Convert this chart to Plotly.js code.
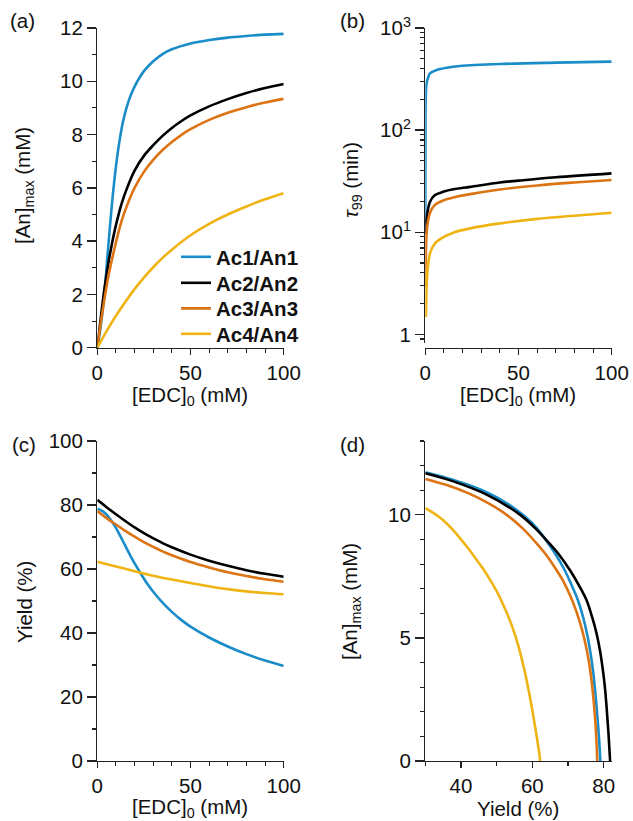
<!DOCTYPE html>
<html>
<head>
<meta charset="utf-8">
<script src="https://cdn.plot.ly/plotly-3.0.1.min.js"></script>
<style>html,body{margin:0;padding:0;background:#fff;}#chart{width:633px;height:821px;}</style>
</head>
<body>
<div id="chart"></div>
<script>
// ---- series names & colours ----
const seriesNames = ["Ac1/An1", "Ac2/An2", "Ac3/An3", "Ac4/An4"];
const seriesColors = ["#1a8cc8", "#000000", "#dc7414", "#efb414"];

// ---- panel (a): [An]max (mM) vs [EDC]0 (mM) ----
const aX1 = [0, 2, 4, 6, 8, 10, 12, 14, 17, 20, 25, 30, 35, 40, 50, 60, 70, 80, 90, 100];
const aY1 = [0, 0.9, 2.2, 3.9, 5.5, 6.8, 7.8, 8.55, 9.3, 9.8, 10.38, 10.75, 11.02, 11.2, 11.42, 11.55, 11.64, 11.7, 11.75, 11.78];
const aX2 = [0, 2, 4, 6, 8, 10, 13, 16, 20, 25, 30, 35, 40, 45, 50, 60, 70, 80, 90, 100];
const aY2 = [0, 1.2, 2.3, 3.2, 3.95, 4.6, 5.4, 6.0, 6.65, 7.2, 7.6, 7.95, 8.25, 8.5, 8.72, 9.06, 9.33, 9.56, 9.75, 9.9];
const aX3 = [0, 2, 4, 6, 8, 10, 13, 16, 20, 25, 30, 35, 40, 45, 50, 60, 70, 80, 90, 100];
const aY3 = [0, 1.0, 1.9, 2.7, 3.35, 3.95, 4.75, 5.35, 6.0, 6.6, 7.05, 7.42, 7.72, 7.98, 8.2, 8.55, 8.82, 9.03, 9.2, 9.34];
const aX4 = [0, 5, 10, 15, 20, 25, 30, 35, 40, 50, 60, 70, 80, 90, 100];
const aY4 = [0, 0.62, 1.2, 1.72, 2.2, 2.63, 3.02, 3.37, 3.68, 4.22, 4.65, 5.0, 5.3, 5.57, 5.8];

// ---- panel (b): tau99 (min) vs [EDC]0 (mM), log y ----
const bX1 = [0, 0.05, 0.1, 0.2, 0.7, 1.6, 2.5, 6, 11.5, 18.6, 40, 70, 100];
const bY1 = [12, 40, 100, 197, 287, 331, 360, 387, 408, 424, 444, 458, 468];
const bX2 = [0, 1, 2.5, 5, 10, 15, 24, 40, 50, 70, 100];
const bY2 = [9.7, 15, 19.8, 23, 25, 26.3, 27.8, 30.7, 32, 34.5, 37.7];
const bX3 = [0, 0.3, 1, 2.5, 5, 10, 15, 24, 40, 60, 80, 100];
const bY3 = [2.9, 6.2, 11.2, 15.4, 18.4, 20.6, 21.9, 23.6, 26.2, 28.7, 30.7, 32.5];
const bX4 = [0.35, 0.5, 0.7, 1.07, 2.5, 5, 10, 15, 24, 40, 60, 80, 100];
const bY4 = [1.48, 2.0, 2.9, 3.9, 6.2, 7.7, 9.0, 9.9, 10.9, 12.2, 13.5, 14.5, 15.5];
const bTickVals = [1, 10, 100, 1000];
const bTickText = ["1", "10<sup>1</sup>", "10<sup>2</sup>", "10<sup>3</sup>"];

// ---- panel (c): Yield (%) vs [EDC]0 (mM) ----
const cX1 = [0, 3, 6, 9, 12, 15, 18, 21, 24, 27, 30, 35, 40, 45, 50, 60, 70, 80, 90, 100];
const cY1 = [78.8, 78.0, 76.3, 73.8, 70.7, 67.3, 63.9, 60.8, 57.9, 55.2, 52.9, 49.5, 46.6, 44.1, 42.0, 38.6, 35.8, 33.4, 31.4, 29.7];
const cX2 = [0, 5, 10, 15, 20, 25, 30, 35, 40, 50, 60, 70, 80, 90, 100];
const cY2 = [81.6, 79.3, 77.1, 75.0, 73.0, 71.2, 69.6, 68.1, 66.8, 64.5, 62.6, 61.0, 59.6, 58.5, 57.6];
const cX3 = [0, 5, 10, 15, 20, 25, 30, 35, 40, 50, 60, 70, 80, 90, 100];
const cY3 = [78.1, 75.9, 73.9, 71.9, 70.1, 68.4, 66.9, 65.5, 64.3, 62.2, 60.5, 59.0, 57.8, 56.8, 56.0];
const cX4 = [0, 10, 20, 30, 40, 50, 60, 70, 80, 90, 100];
const cY4 = [62.3, 60.8, 59.3, 57.9, 56.7, 55.6, 54.6, 53.7, 53.0, 52.5, 52.1];

// ---- panel (d): [An]max (mM) vs Yield (%) ----
const dX1 = [30, 36, 42, 48, 53, 57.5, 61.2, 64, 66.5, 69, 71, 72.8, 74.3, 75.5, 76.4, 77.1, 77.7, 78.2, 78.7, 79.07];
const dY1 = [11.73, 11.5, 11.22, 10.86, 10.46, 9.98, 9.47, 8.93, 8.4, 7.77, 7.15, 6.52, 5.8, 5.05, 4.3, 3.55, 2.7, 1.85, 0.9, 0];
const dX2 = [30, 37.85, 47.2, 56.5, 60.5, 64, 67.5, 70.6, 73, 75.2, 76.8, 78, 79, 79.9, 80.4, 80.8, 81.3, 81.8];
const dY2 = [11.69, 11.36, 10.82, 10.01, 9.5, 8.96, 8.38, 7.74, 7.15, 6.53, 5.82, 5.18, 4.45, 3.55, 2.9, 2.2, 1.2, 0];
const dX3 = [30, 36, 42, 48, 53, 57.5, 61, 64, 66.5, 68.7, 70.6, 72.4, 73.9, 75.2, 76.1, 76.8, 77.3, 77.7, 78.0, 78.2];
const dY3 = [11.46, 11.21, 10.88, 10.45, 9.98, 9.42, 8.87, 8.35, 7.82, 7.3, 6.72, 6.05, 5.35, 4.55, 3.8, 3.0, 2.25, 1.5, 0.7, 0];
const dX4 = [30, 32, 34, 36, 38, 40, 42, 44, 46, 48, 50, 52, 54, 56, 58, 59, 60, 61, 62, 62.2];
const dY4 = [10.27, 10.1, 9.9, 9.65, 9.35, 9.0, 8.64, 8.25, 7.85, 7.4, 6.9, 6.3, 5.6, 4.72, 3.55, 2.84, 2.05, 1.2, 0.25, 0];

const panels = [
  {xs: [aX1, aX2, aX3, aX4], ys: [aY1, aY2, aY3, aY4], xa: "x", ya: "y"},
  {xs: [bX1, bX2, bX3, bX4], ys: [bY1, bY2, bY3, bY4], xa: "x2", ya: "y2"},
  {xs: [cX1, cX2, cX3, cX4], ys: [cY1, cY2, cY3, cY4], xa: "x3", ya: "y3"},
  {xs: [dX1, dX2, dX3, dX4], ys: [dY1, dY2, dY3, dY4], xa: "x4", ya: "y4"}
];

const legendIds = ["legend", "legend2", "legend3", "legend4"];
const traces = [];
panels.forEach((p, pi) => {
  for (let i = 0; i < 4; i++) {
    traces.push({
      x: p.xs[i], y: p.ys[i], xaxis: p.xa, yaxis: p.ya,
      type: "scatter", mode: "lines",
      line: {color: seriesColors[i], width: 2.6, shape: "spline", smoothing: 1},
      name: seriesNames[i],
      legend: legendIds[i],
      showlegend: pi === 0
    });
  }
});

const W = 633, H = 821;
const px = v => v / W;
const py = v => 1 - v / H;
const FONT = "Liberation Sans, Arial, Helvetica, sans-serif";
const FS = 20.5;
const axCol = "#222";

function axisBase(extra) {
  return Object.assign({
    showline: true, linecolor: axCol, linewidth: 1.3,
    ticks: "outside", ticklen: 9, tickwidth: 1.3, tickcolor: axCol,
    showgrid: false, zeroline: false, fixedrange: true,
    tickfont: {family: FONT, size: FS, color: "#111"}
  }, extra);
}
const minorLin = (d) => ({ticks: "outside", ticklen: 4, tickwidth: 1.1, tickcolor: axCol, dtick: d, showgrid: false});

// log minor ticks
const logMinor = [];
for (let e = -1; e < 3; e++) for (let m = 2; m <= 9; m++) logMinor.push(m * Math.pow(10, e));

const legendRowsY = [257, 283, 308.5, 334];
function legendBox(rowY) {
  return {
    x: px(176), y: py(rowY), xanchor: "left", yanchor: "middle",
    bgcolor: "rgba(0,0,0,0)", borderwidth: 0,
    font: {family: FONT, size: FS, color: "#111", weight: "bold"},
    itemwidth: 30
  };
}

const layout = {
  width: W, height: H,
  margin: {l: 0, r: 0, t: 0, b: 0},
  paper_bgcolor: "#fff", plot_bgcolor: "#fff",
  font: {family: FONT, size: FS, color: "#111"},
  showlegend: true,
  legend: legendBox(legendRowsY[0]),
  legend2: legendBox(legendRowsY[1]),
  legend3: legendBox(legendRowsY[2]),
  legend4: legendBox(legendRowsY[3]),
  xaxis: axisBase({domain: [px(97.3), px(283.7)], anchor: "y", range: [0, 100], tickvals: [0, 50, 100], ticklen: 6, minor: minorLin(10)}),
  yaxis: axisBase({domain: [py(347.7), py(28)], anchor: "x", range: [0, 12], dtick: 2, minor: minorLin(1)}),
  xaxis2: axisBase({domain: [px(425.3), px(611.7)], anchor: "free", position: py(347.7), range: [0, 100], tickvals: [0, 50, 100], ticklen: 6, minor: minorLin(10)}),
  yaxis2: axisBase({domain: [py(343), py(28)], anchor: "x2", type: "log", range: [-0.085, 3],
    tickmode: "array", tickvals: bTickVals, ticktext: bTickText,
    minor: {ticks: "outside", ticklen: 4, tickwidth: 1.1, tickcolor: axCol, tickmode: "array", tickvals: logMinor, showgrid: false}}),
  xaxis3: axisBase({domain: [px(97.3), px(283.7)], anchor: "y3", range: [0, 100], tickvals: [0, 50, 100], ticklen: 6, minor: minorLin(10)}),
  yaxis3: axisBase({domain: [py(761), py(441)], anchor: "x3", range: [0, 100], dtick: 20, minor: minorLin(10)}),
  xaxis4: axisBase({domain: [px(425.3), px(611.7)], anchor: "y4", range: [30, 82.24], tickvals: [40, 60, 80], ticklen: 6, minor: minorLin(10)}),
  yaxis4: axisBase({domain: [py(761), py(441)], anchor: "x4", range: [0, 13], tickvals: [0, 5, 10], minor: minorLin(1)}),
  annotations: []
};

function ann(text, x, y, opts) {
  layout.annotations.push(Object.assign({
    text: text, xref: "paper", yref: "paper", x: px(x), y: py(y),
    xanchor: "center", yanchor: "middle", showarrow: false,
    font: {family: FONT, size: FS, color: "#111"}
  }, opts || {}));
}
// panel labels
ann("(a)", 8, 21, {xanchor: "left"});
ann("(b)", 338, 21, {xanchor: "left"});
ann("(c)", 10, 444, {xanchor: "left"});
ann("(d)", 338, 444, {xanchor: "left"});
// axis titles
ann("[An]<sub>max</sub> (mM)", 24, 186, {textangle: -90});
ann("[EDC]<sub>0</sub> (mM)", 190, 396, {height: 24});
ann("<i>τ</i><sub>99</sub> (min)", 352, 180, {textangle: -90});
ann("[EDC]<sub>0</sub> (mM)", 518, 396, {height: 24});
ann("Yield (%)", 24, 602, {textangle: -90});
ann("[EDC]<sub>0</sub> (mM)", 190, 808, {height: 24});
ann("[An]<sub>max</sub> (mM)", 351, 601, {textangle: -90});
ann("Yield (%)", 518, 808, {height: 24});

Plotly.newPlot("chart", traces, layout, {staticPlot: true, displayModeBar: false});
</script>
</body>
</html>
